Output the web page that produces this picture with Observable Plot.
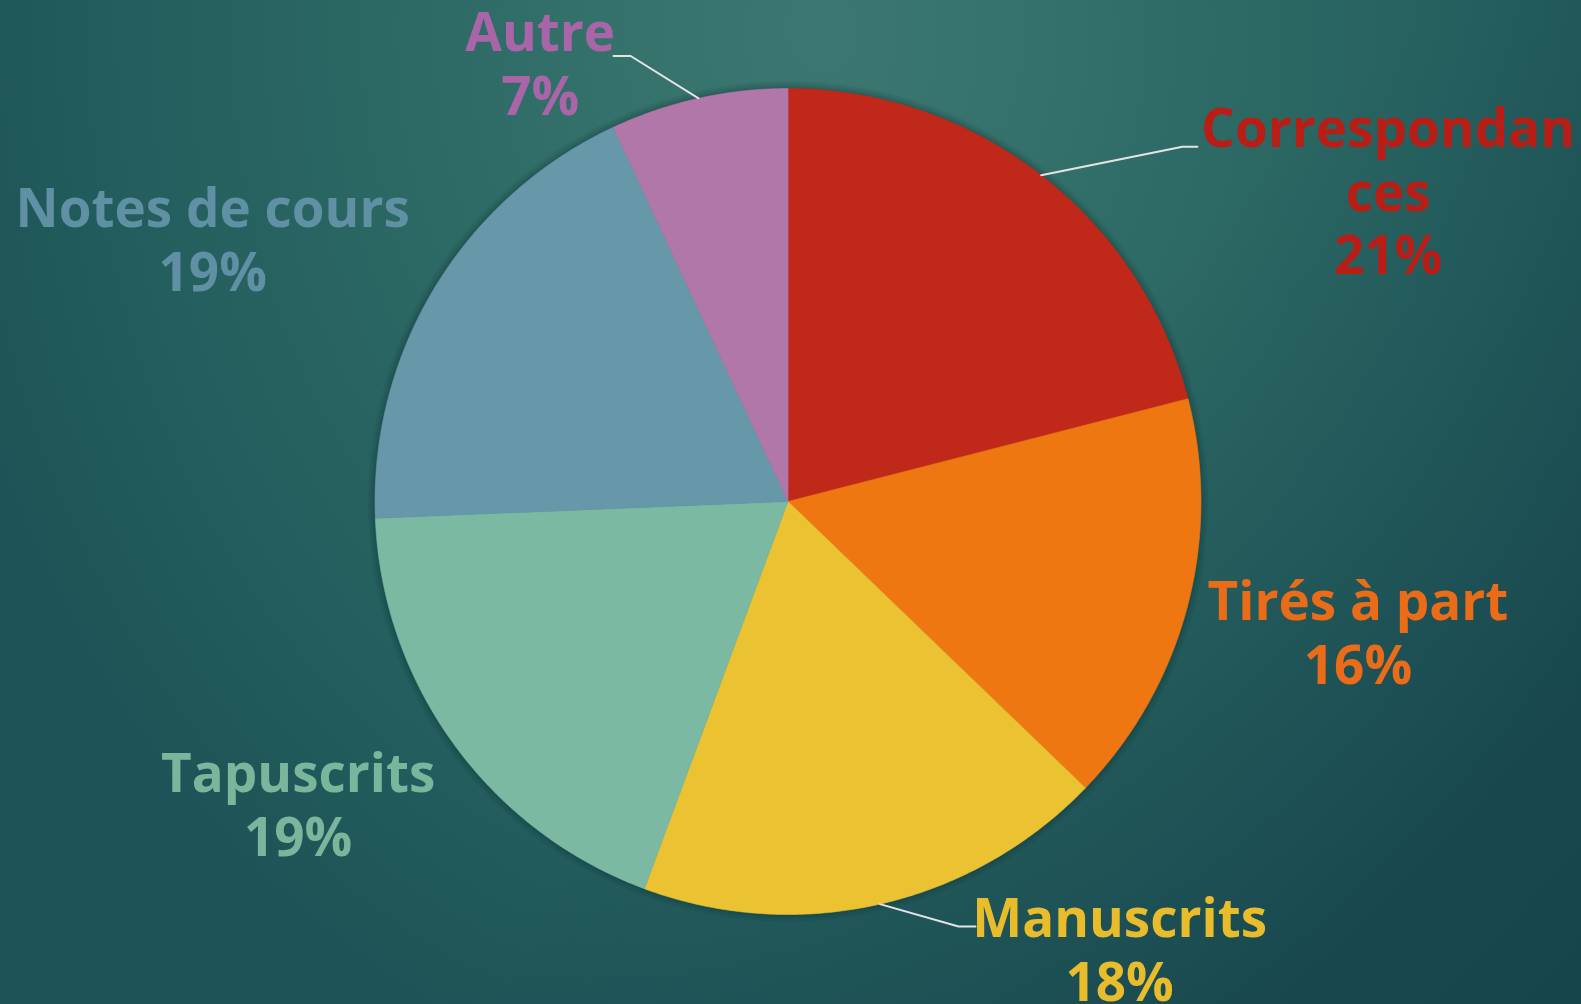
<!DOCTYPE html>
<html>
<head>
<meta charset="utf-8">
<script src="https://cdn.jsdelivr.net/npm/d3@7"></script>
<script src="https://cdn.jsdelivr.net/npm/@observablehq/plot@0.6"></script>
<style>
  html, body { margin: 0; padding: 0; overflow: hidden; background: #1f5858; }
  #chart svg { display: block; }
</style>
</head>
<body>
<div id="chart"></div>
<script>
// ---- data ----
const categories = ["Correspondances", "Tirés à part", "Manuscrits", "Tapuscrits", "Notes de cours", "Autre"];
const values = [21.0, 16.2, 18.45, 18.7, 18.7, 6.95];
const labelText = ["Correspondan\nces", "Tirés à part", "Manuscrits", "Tapuscrits", "Notes de cours", "Autre"];
const sliceColors = ["#c0291a", "#ee7712", "#ebc232", "#7cb9a2", "#6798a9", "#b177a9"];
const textColors = ["#b81e16", "#eb6c18", "#e9bc2c", "#79b69b", "#5f90a4", "#a965a8"];

// ---- layout (unit = pie radius) ----
const W = 1581, H = 1004, R = 413, CX = 787.5, CY = 501;
const labelPos = [[1.453, 0.753], [1.38, -0.315], [0.803, -1.082], [-1.186, -0.731], [-1.393, 0.637], [-0.600, 1.063]];
const leaderBends = {0: [[0.955, 0.859], [0.9913, 0.859]], 2: [[0.413, -1.029], [0.454, -1.029]], 5: [[-0.381, 1.0787], [-0.4225, 1.0787]]};

const total = d3.sum(values);
let cum = 0;
const slices = categories.map((c, i) => {
  const a0 = cum / total * 2 * Math.PI;
  cum += values[i];
  const a1 = cum / total * 2 * Math.PI;
  return {cat: c, i, a0, a1, mid: (a0 + a1) / 2};
});

const slicePts = [];
const rimPts = [];
for (const s of slices) {
  slicePts.push({cat: s.cat, x: 0, y: 0, color: sliceColors[s.i]});
  const n = Math.max(4, Math.ceil((s.a1 - s.a0) / (Math.PI / 360)));
  for (let k = 0; k <= n; k++) {
    const a = s.a0 + (s.a1 - s.a0) * k / n;
    slicePts.push({cat: s.cat, x: Math.sin(a), y: Math.cos(a), color: sliceColors[s.i]});
    rimPts.push({x: Math.sin(a), y: Math.cos(a)});
  }
  slicePts.push({cat: s.cat, x: 0, y: 0, color: sliceColors[s.i]});
}

const leaderPts = [];
for (const key of Object.keys(leaderBends)) {
  const s = slices[+key];
  leaderPts.push({cat: s.cat, x: Math.sin(s.mid), y: Math.cos(s.mid)});
  for (const p of leaderBends[key]) leaderPts.push({cat: s.cat, x: p[0], y: p[1]});
}

const labels = slices.map(s => ({
  cat: s.cat,
  x: labelPos[s.i][0],
  y: labelPos[s.i][1],
  text: labelText[s.i] + "\n" + Math.round(values[s.i] / total * 100) + "%",
  color: textColors[s.i]
}));

const shadowMarks = [14, 9, 5, 2].map(w =>
  Plot.line(rimPts, {x: "x", y: "y", stroke: "#0a2a2a", strokeOpacity: 0.09, strokeWidth: w, curve: "linear"})
);

const plot = Plot.plot({
  width: W,
  height: H,
  margin: 0,
  x: {axis: null, domain: [-CX / R, (W - CX) / R]},
  y: {axis: null, domain: [-(H - CY) / R, CY / R]},
  color: {type: "identity"},
  style: {
    background: "linear-gradient(135deg, rgba(0,0,0,0) 55%, rgba(8,28,48,0.28) 100%), radial-gradient(ellipse 58% 110% at 52% 3%, #3c7771 0%, #35716b 25%, #2b6763 50%, #245e5e 75%, #1d5457 100%)"
  },
  marks: [
    ...shadowMarks,
    Plot.line(slicePts, {x: "x", y: "y", z: "cat", fill: "color", stroke: "color", strokeWidth: 0.6, curve: "linear"}),
    Plot.line(leaderPts, {x: "x", y: "y", z: "cat", stroke: "#e4e4e4", strokeWidth: 2, curve: "linear"}),
    Plot.text(labels, {
      x: "x", y: "y", text: "text", fill: "color",
      fontSize: 53, fontWeight: 700, fontFamily: "'Open Sans', Lato, sans-serif",
      lineHeight: 1.2, textAnchor: "middle"
    })
  ]
});

document.getElementById("chart").appendChild(plot);
</script>
</body>
</html>
